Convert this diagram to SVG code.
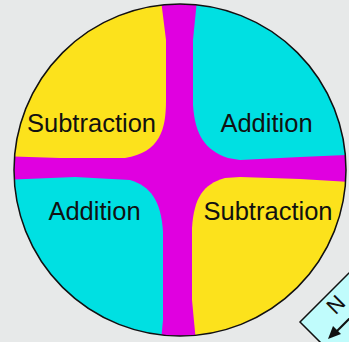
<svg xmlns="http://www.w3.org/2000/svg" width="349" height="342" viewBox="0 0 349 342">
<style>
.lbl{font-family:"Liberation Sans",Arial,sans-serif;font-size:25.5px;fill:#111;text-anchor:middle}
.yel{fill:#fce21c}
.cya{fill:#00e0e2}
</style>
<defs>
<clipPath id="disc"><circle cx="180" cy="170" r="166"/></clipPath>
</defs>
<rect width="349" height="342" fill="#e7e9e9"/>
<g id="wafer">
<g clip-path="url(#disc)">
<rect x="0" y="0" width="349" height="342" fill="#e000e0"/>
<path id="q-tl" class="yel" d="M0,0 L161,0 L166,40 L166,100 C166,130 160,152 125,158 L60,158 L0,156 Z"/>
<path id="q-tr" class="cya" d="M197,0 L349,0 L349,155 L300,157 L240,160 L228,158 C205,150 195,135 193,105 L193,40 Z"/>
<path id="q-bl" class="cya" d="M0,180 L75,177 L130,180 C150,186 161,200 163,232 L163,320 L161,342 L0,342 Z"/>
<path id="q-br" class="yel" d="M349,182 L300,179 L240,177 L225,178 C203,184 194,198 192,228 L192,300 L196,342 L349,342 Z"/>
</g>
<circle cx="180" cy="170" r="166" fill="none" stroke="#111" stroke-width="1.5"/>
</g>
<g id="labels">
<text class="lbl" x="91.5" y="132">Subtraction</text>
<text class="lbl" x="266.5" y="132">Addition</text>
<text class="lbl" x="94.5" y="220">Addition</text>
<text class="lbl" x="268" y="220">Subtraction</text>
</g>
<g id="compass">
<path d="M371,251 L300,322 L340,362 L411,291 Z" fill="#c0fcfc" stroke="#111" stroke-width="1.5"/>
<text x="341" y="310" transform="rotate(-45 341 310)" style="font-family:'Liberation Sans',Arial,sans-serif;font-size:22px;fill:#111;text-anchor:middle">N</text>
<line x1="352" y1="316" x2="334" y2="334" stroke="#111" stroke-width="2"/>
<path d="M328,339 L333,326 L341,334 Z" fill="#111"/>
</g>
</svg>
